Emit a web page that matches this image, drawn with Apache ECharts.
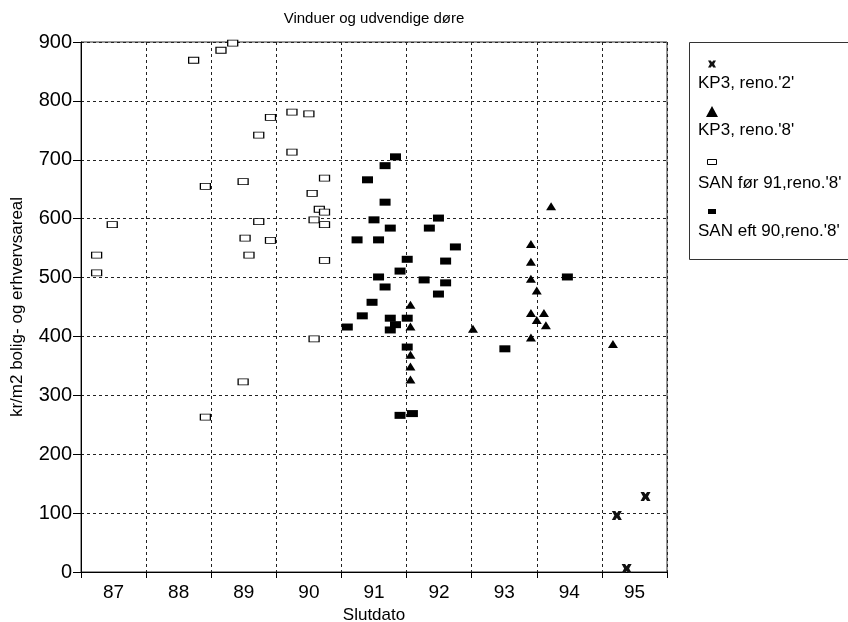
<!DOCTYPE html>
<html>
<head>
<meta charset="utf-8">
<script src="https://cdn.jsdelivr.net/npm/echarts@6/dist/echarts.min.js"></script>
<style>
  html, body { margin: 0; padding: 0; background: #fff; }
  #chart { width: 848px; height: 622px; }
</style>
</head>
<body>
<div id="chart"></div>
<script>
// Year categories shown under the x axis (each spans one unit of the value axis)
const yearLabels = ['87', '88', '89', '90', '91', '92', '93', '94', '95'];

// [slutdato, kr/m2] per project
const kp3Reno2 = [[94.73, 96], [94.88, 6], [95.17, 128]];

const kp3Reno8 = [
  [91.56, 454], [91.56, 417], [91.56, 369], [91.56, 349], [91.56, 327],
  [92.52, 413], [93.41, 557], [93.41, 527], [93.41, 498], [93.41, 440],
  [93.41, 398], [93.50, 478], [93.50, 428], [93.61, 440], [93.64, 419],
  [93.72, 621], [94.67, 387]
];

const sanBefore91 = [
  [86.74, 538], [86.74, 508], [86.98, 590], [88.23, 869], [88.65, 886],
  [88.83, 898], [88.41, 655], [88.41, 263], [88.99, 663], [88.99, 323],
  [89.02, 567], [89.08, 538], [89.23, 742], [89.23, 595], [89.41, 772],
  [89.41, 563], [89.74, 781], [89.74, 713], [90.00, 778], [90.05, 643],
  [90.08, 598], [90.08, 396], [90.16, 616], [90.24, 669], [90.24, 611],
  [90.24, 590], [90.24, 529]
];

const sanAfter90 = [
  [90.59, 416], [90.74, 564], [90.82, 435], [90.90, 666], [90.97, 458],
  [91.00, 598], [91.07, 564], [91.07, 501], [91.17, 690], [91.17, 628],
  [91.17, 484], [91.25, 584], [91.25, 431], [91.25, 411], [91.33, 705],
  [91.33, 420], [91.40, 511], [91.40, 266], [91.51, 531], [91.51, 431],
  [91.51, 382], [91.59, 269], [91.77, 496], [91.85, 584], [91.99, 601],
  [91.99, 472], [92.10, 528], [92.10, 491], [92.25, 552], [93.01, 379],
  [93.97, 501]
];

const seriesNames = ["KP3, reno.'2'", "KP3, reno.'8'", "SAN før 91,reno.'8'", "SAN eft 90,reno.'8'"];

const FONT = '"Liberation Sans", Arial, Helvetica, sans-serif';
// bold bow-tie cross in a 10x10 box
const crossOutline = [[0,0],[3.5,0],[5,2.5],[6.5,0],[10,0],[7.5,5],[10,10],[6.5,10],[5,7.5],[3.5,10],[0,10],[2.5,5]];
const crossPath = 'path://M' + crossOutline.map(p => p.join(',')).join(' L') + ' Z';
const dashed = { color: '#222', width: 1, type: [3, 3] };

const legendX = 712;
const legendTextX = 698;

const chart = echarts.init(document.getElementById('chart'), null, { renderer: 'canvas' });

chart.setOption({
  animation: false,
  backgroundColor: '#fff',
  textStyle: { fontFamily: FONT, color: '#000' },
  grid: {
    left: 81, top: 42, width: 586, height: 530,
    outerBoundsMode: 'none',
    containLabel: false,
    show: true, borderColor: '#333', borderWidth: 1, backgroundColor: 'transparent'
  },
  xAxis: [
    {
      type: 'category',
      data: yearLabels,
      boundaryGap: true,
      name: 'Slutdato',
      nameLocation: 'middle',
      nameGap: 30,
      nameTextStyle: { fontSize: 17, fontFamily: FONT, color: '#000' },
      axisLine: { lineStyle: { color: '#000', width: 1 } },
      axisTick: { show: true, length: 6, lineStyle: { color: '#000' } },
      axisLabel: { fontSize: 19, fontFamily: FONT, color: '#000', margin: 11 },
      splitLine: { show: true, lineStyle: dashed }
    },
    {
      type: 'value',
      min: 86.5,
      max: 95.5,
      show: false
    }
  ],
  yAxis: {
    type: 'value',
    min: 0,
    max: 900,
    interval: 100,
    name: 'kr/m2 bolig- og erhvervsareal',
    nameLocation: 'middle',
    nameRotate: 90,
    nameGap: 55,
    nameTextStyle: { fontSize: 17, fontFamily: FONT, color: '#000' },
    axisLine: { show: true, lineStyle: { color: '#000', width: 1 } },
    axisTick: { show: true, length: 8, lineStyle: { color: '#000' } },
    axisLabel: { fontSize: 20, fontFamily: FONT, color: '#000', margin: 9 },
    splitLine: { show: true, lineStyle: dashed }
  },
  series: [
    {
      name: seriesNames[2], type: 'scatter', xAxisIndex: 1,
      symbol: 'rect', symbolSize: [10, 6],
      itemStyle: { color: '#fff', borderColor: '#000', borderWidth: 1, opacity: 1 },
      data: sanBefore91
    },
    {
      name: seriesNames[3], type: 'scatter', xAxisIndex: 1,
      symbol: 'rect', symbolSize: [11, 7],
      itemStyle: { color: '#000', opacity: 1 },
      data: sanAfter90
    },
    {
      name: seriesNames[1], type: 'scatter', xAxisIndex: 1,
      symbol: 'triangle', symbolSize: [10, 8],
      itemStyle: { color: '#000', opacity: 1 },
      data: kp3Reno8
    },
    {
      name: seriesNames[0], type: 'scatter', xAxisIndex: 1,
      symbol: crossPath, symbolSize: [10, 9],
      itemStyle: { color: '#111', opacity: 1 },
      data: kp3Reno2
    }
  ],
  graphic: [
    {
      type: 'text', x: 374, y: 19,
      style: {
        text: 'Vinduer og udvendige døre', fontSize: 15, fontFamily: FONT,
        fill: '#000', align: 'center', verticalAlign: 'middle'
      }
    },
    // legend frame
    {
      type: 'rect', shape: { x: 689.5, y: 42.5, width: 170, height: 217 },
      style: { fill: '#fff', stroke: '#333', lineWidth: 1 }
    },
    // legend keys
    {
      type: 'polygon',
      shape: { points: crossOutline.map(p => [legendX - 4 + p[0] * 0.8, 60.5 + p[1] * 0.7]) },
      style: { fill: '#111' }
    },
    {
      type: 'polygon', shape: { points: [[legendX - 6, 117], [legendX + 6, 117], [legendX, 106]] },
      style: { fill: '#000' }
    },
    {
      type: 'rect', shape: { x: legendX - 4.5, y: 159.5, width: 9, height: 5 },
      style: { fill: '#fff', stroke: '#000', lineWidth: 1 }
    },
    {
      type: 'rect', shape: { x: legendX - 4, y: 209, width: 8, height: 5 },
      style: { fill: '#000' }
    },
    // legend labels
    ...seriesNames.map((n, i) => ({
      type: 'text', x: legendTextX, y: [83, 130, 183, 231][i],
      style: { text: n, fontSize: 17, fontFamily: FONT, fill: '#000', verticalAlign: 'middle' }
    }))
  ]
});
</script>
</body>
</html>
